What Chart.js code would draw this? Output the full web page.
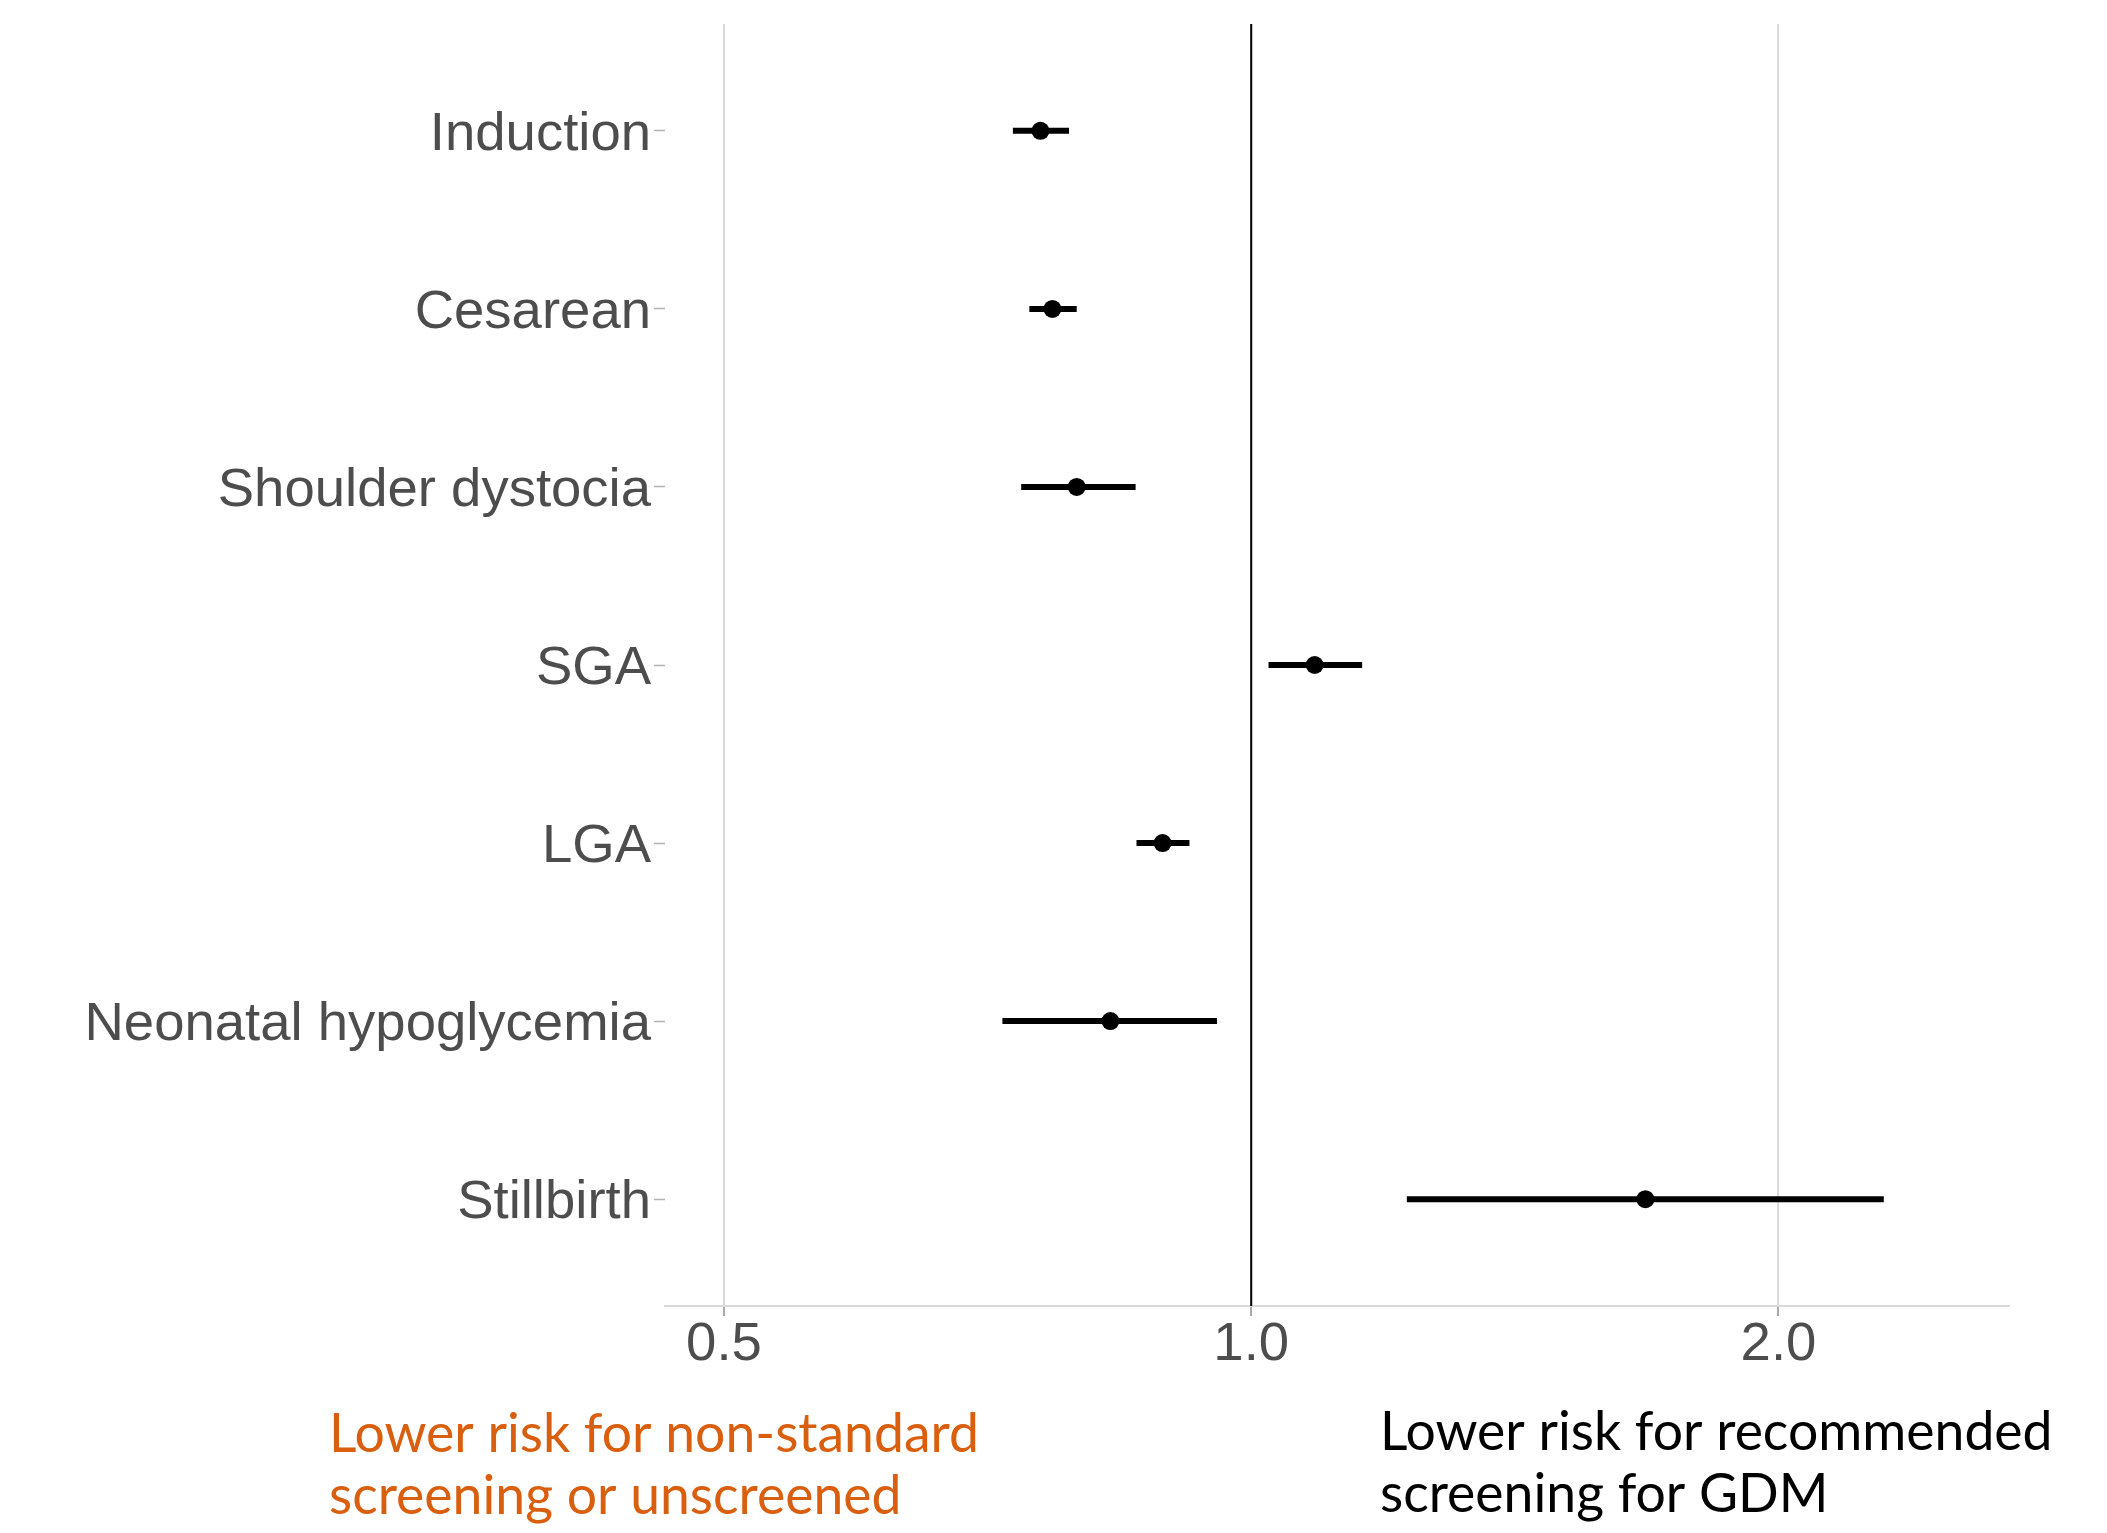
<!DOCTYPE html>
<html>
<head>
<meta charset="utf-8">
<script src="https://cdn.jsdelivr.net/npm/chart.js@4.4.1/dist/chart.umd.min.js"></script>
<style>
  html, body { margin: 0; padding: 0; background: #ffffff; }
  #forest { display: block; }
</style>
</head>
<body>
<canvas id="forest" width="2107" height="1533"></canvas>
<script>
// outcomes, top to bottom
const categories = ['Induction', 'Cesarean', 'Shoulder dystocia', 'SGA', 'LGA', 'Neonatal hypoglycemia', 'Stillbirth'];
// odds ratios with 95% CI
const estimates = [0.758, 0.770, 0.795, 1.087, 0.890, 0.831, 1.679];
const lowerCI   = [0.731, 0.747, 0.739, 1.023, 0.860, 0.721, 1.227];
const upperCI   = [0.787, 0.795, 0.859, 1.157, 0.922, 0.956, 2.297];
// x axis ticks
const xTicks = [0.5, 1, 2];
const xTickLabels = ['0.5', '1.0', '2.0'];
// notes under the axis
const leftNote = ['Lower risk for non-standard', 'screening or unscreened'];
const rightNote = ['Lower risk for recommended', 'screening for GDM'];

const labelFont = { family: "'Liberation Sans', Arial, sans-serif", size: 54.5 };

// one line segment per outcome for the interval
const ciSets = categories.map((c, i) => ({
    type: 'line',
    data: [{ x: lowerCI[i], y: i }, { x: upperCI[i], y: i }],
    borderColor: '#000000',
    borderWidth: 6,
    borderCapStyle: 'butt',
    pointRadius: 0,
    fill: false
}));

// draw the two captions below the x axis
const notesPlugin = {
    id: 'notes',
    afterDraw: function(chart) {
        const ctx = chart.ctx;
        ctx.save();
        ctx.font = "53.5px Lato, 'Open Sans', sans-serif";
        ctx.textBaseline = 'alphabetic';
        ctx.textAlign = 'left';
        ctx.fillStyle = '#d95f0e';
        leftNote.forEach((t, k) => ctx.fillText(t, 329, 1452 + k * 62));
        ctx.fillStyle = '#000000';
        rightNote.forEach((t, k) => ctx.fillText(t, 1380, 1450 + k * 62));
        ctx.restore();
    }
};

new Chart(document.getElementById('forest'), {
    type: 'scatter',
    data: {
        datasets: [
            {
                type: 'scatter',
                data: estimates.map((v, i) => ({ x: v, y: i })),
                backgroundColor: '#000000',
                borderWidth: 0,
                pointRadius: 9,
                pointHoverRadius: 9
            },
            ...ciSets,
            {
                // reference line at OR = 1
                type: 'line',
                data: [{ x: 1, y: -0.6 }, { x: 1, y: categories.length - 0.4 }],
                borderColor: '#000000',
                borderWidth: 2,
                pointRadius: 0
            }
        ]
    },
    options: {
        responsive: false,
        animation: false,
        layout: { padding: { top: 24, right: 98, left: 0, bottom: 0 } },
        plugins: {
            legend: { display: false },
            tooltip: { enabled: false }
        },
        scales: {
            x: {
                type: 'logarithmic',
                min: 0.4627,
                max: 2.708,
                afterBuildTicks: function(s) { s.ticks = xTicks.map(v => ({ value: v })); },
                afterFit: function(s) { s.height = 227; s.paddingLeft = 0; s.paddingRight = 0; },
                ticks: {
                    color: '#4d4d4d',
                    font: labelFont,
                    padding: -4,
                    autoSkip: false,
                    maxRotation: 0,
                    callback: function(v) { return xTickLabels[xTicks.indexOf(v)]; }
                },
                grid: {
                    color: '#dadada',
                    lineWidth: 2,
                    drawTicks: true,
                    tickLength: 10,
                    tickColor: '#8c8c8c',
                    tickWidth: 1.5
                },
                border: { display: true, color: '#d9d9d9', width: 2 }
            },
            y: {
                type: 'linear',
                reverse: true,
                min: -0.6,
                max: categories.length - 0.4,
                afterBuildTicks: function(s) { s.ticks = categories.map((c, i) => ({ value: i })); },
                afterFit: function(s) { s.width = 665; s.paddingTop = 0; s.paddingBottom = 0; },
                ticks: {
                    color: '#4d4d4d',
                    font: labelFont,
                    padding: 3,
                    labelOffset: 4,
                    autoSkip: false,
                    callback: function(v) { return categories[v]; }
                },
                grid: {
                    drawOnChartArea: false,
                    drawTicks: true,
                    tickLength: 11,
                    tickColor: '#b3b3b3',
                    tickWidth: 1.5
                },
                border: { display: false }
            }
        }
    },
    plugins: [notesPlugin]
});
</script>
</body>
</html>
